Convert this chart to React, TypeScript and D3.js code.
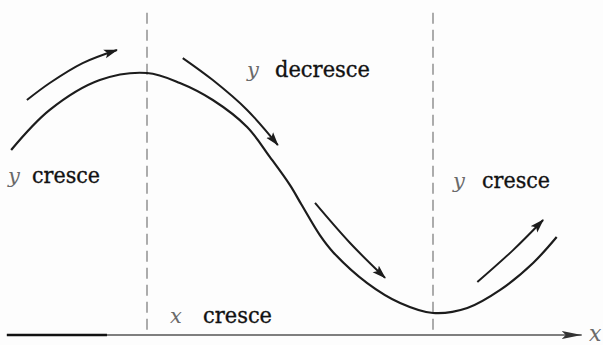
import React, { useRef, useEffect } from 'react'
import * as d3 from 'd3'

// curve y = f(x) (x: 0..8, y: 0..10)
const curveX = [0.1, 0.64, 1.34, 2.0, 2.46, 2.92, 3.4, 3.72, 4.0, 4.16, 4.42, 4.6, 5.08, 5.54, 6.0, 6.48, 6.94, 7.4, 7.73]
const curveY = [7.06, 8.59, 9.73, 10.0, 9.62, 8.97, 7.94, 6.79, 5.72, 4.98, 3.8, 3.17, 1.98, 1.22, 0.84, 1.03, 1.72, 2.75, 3.74]

// direction arrows running beside the curve
const arrowUp1X = [0.32, 0.64, 1.1, 1.58]
const arrowUp1Y = [8.97, 9.62, 10.38, 10.88]
const arrowDown1X = [2.5, 2.92, 3.4, 3.83]
const arrowDown1Y = [10.57, 9.73, 8.59, 7.25]
const arrowDown2X = [4.35, 4.84, 5.33]
const arrowDown2Y = [5.04, 3.51, 2.18]
const arrowUp2X = [6.62, 7.12, 7.54]
const arrowUp2Y = [2.02, 3.24, 4.39]

// turning points (max, min) marked with dashed verticals
const turningX = [2, 6]
const dashTop = 12.3

// x axis extent
const axisStart = 0.04
const axisBoldEnd = 1.44
const axisEnd = 8.08

const labelWords = ['cresce', 'decresce', 'cresce', 'cresce']
const labelVars = ['y', 'y', 'y', 'x']

const W = 603
const H = 345
const serif = 'DejaVu Serif'

const App = () => {
  const svgRef = useRef<SVGSVGElement>(null)

  useEffect(() => {
    document.body.style.margin = '0'
    const x = d3.scaleLinear().domain([0, 8]).range([4, 576])
    const y = d3.scaleLinear().domain([0, 10]).range([335, 73])

    const svg = d3.select(svgRef.current)
    svg.selectAll('*').remove()

    svg.append('rect').attr('width', W).attr('height', H).attr('fill', '#fdfdfd')

    const defs = svg.append('defs')
    defs.append('marker')
      .attr('id', 'head')
      .attr('viewBox', '0 0 14 10')
      .attr('refX', 13)
      .attr('refY', 5)
      .attr('markerUnits', 'userSpaceOnUse')
      .attr('markerWidth', 14)
      .attr('markerHeight', 10)
      .attr('orient', 'auto')
      .append('path')
      .attr('d', 'M0,0.5 L14,5 L0,9.5 L3,5 Z')
      .attr('fill', '#1c1c1c')

    defs.append('marker')
      .attr('id', 'axishead')
      .attr('viewBox', '0 0 20 10')
      .attr('refX', 20)
      .attr('refY', 5)
      .attr('markerUnits', 'userSpaceOnUse')
      .attr('markerWidth', 20)
      .attr('markerHeight', 10)
      .attr('orient', 'auto')
      .append('path')
      .attr('d', 'M0,1 L20,5 L0,9 L4,5 Z')
      .attr('fill', '#333')

    // dashed verticals
    svg.append('g')
      .selectAll('line')
      .data(turningX)
      .join('line')
      .attr('x1', (d) => x(d))
      .attr('x2', (d) => x(d))
      .attr('y1', y(dashTop))
      .attr('y2', y(0))
      .attr('stroke', '#777')
      .attr('stroke-width', 1.2)
      .attr('stroke-dasharray', '11,6')

    // x axis
    svg.append('line')
      .attr('x1', x(axisStart)).attr('x2', x(axisEnd))
      .attr('y1', y(0)).attr('y2', y(0))
      .attr('stroke', '#555')
      .attr('stroke-width', 1.4)
      .attr('marker-end', 'url(#axishead)')
    svg.append('line')
      .attr('x1', x(axisStart)).attr('x2', x(axisBoldEnd))
      .attr('y1', y(0)).attr('y2', y(0))
      .attr('stroke', '#111')
      .attr('stroke-width', 2.4)

    const line = d3.line<[number, number]>()
      .x((d) => x(d[0]))
      .y((d) => y(d[1]))
      .curve(d3.curveCatmullRom.alpha(0.5))

    svg.append('path')
      .datum(d3.zip(curveX, curveY) as [number, number][])
      .attr('d', line)
      .attr('fill', 'none')
      .attr('stroke', '#1c1c1c')
      .attr('stroke-width', 2.2)

    const arrows = [
      [arrowUp1X, arrowUp1Y],
      [arrowDown1X, arrowDown1Y],
      [arrowDown2X, arrowDown2Y],
      [arrowUp2X, arrowUp2Y],
    ]
    svg.append('g')
      .selectAll('path')
      .data(arrows)
      .join('path')
      .attr('d', (a) => line(d3.zip(a[0], a[1]) as [number, number][]))
      .attr('fill', 'none')
      .attr('stroke', '#1c1c1c')
      .attr('stroke-width', 2)
      .attr('marker-end', 'url(#head)')

    // labels: [var x, word x, baseline, word width]
    const pos = [[8, 32, 183, 68], [247, 275, 77, 95], [453, 482, 188, 68], [170, 203, 323, 69]]
    const g = svg.append('g')
    pos.forEach((p, i) => {
      g.append('text')
        .attr('x', p[0]).attr('y', p[2])
        .attr('font-family', serif)
        .attr('font-size', 21)
        .attr('font-style', 'italic')
        .attr('fill', '#6a6a6a')
        .text(labelVars[i])
      g.append('text')
        .attr('x', p[1]).attr('y', p[2])
        .attr('font-family', serif)
        .attr('font-size', 21.5)
        .attr('textLength', p[3])
        .attr('lengthAdjust', 'spacingAndGlyphs')
        .attr('fill', '#111')
        .attr('stroke', '#111')
        .attr('stroke-width', 0.35)
        .text(labelWords[i])
    })
    g.append('text')
      .attr('x', 589).attr('y', 341)
      .attr('font-family', serif)
      .attr('font-size', 22)
      .attr('font-style', 'italic')
      .attr('fill', '#6a6a6a')
      .text('x')
  }, [])

  return <svg ref={svgRef} width={W} height={H} style={{ display: 'block' }} />
}

export default App
